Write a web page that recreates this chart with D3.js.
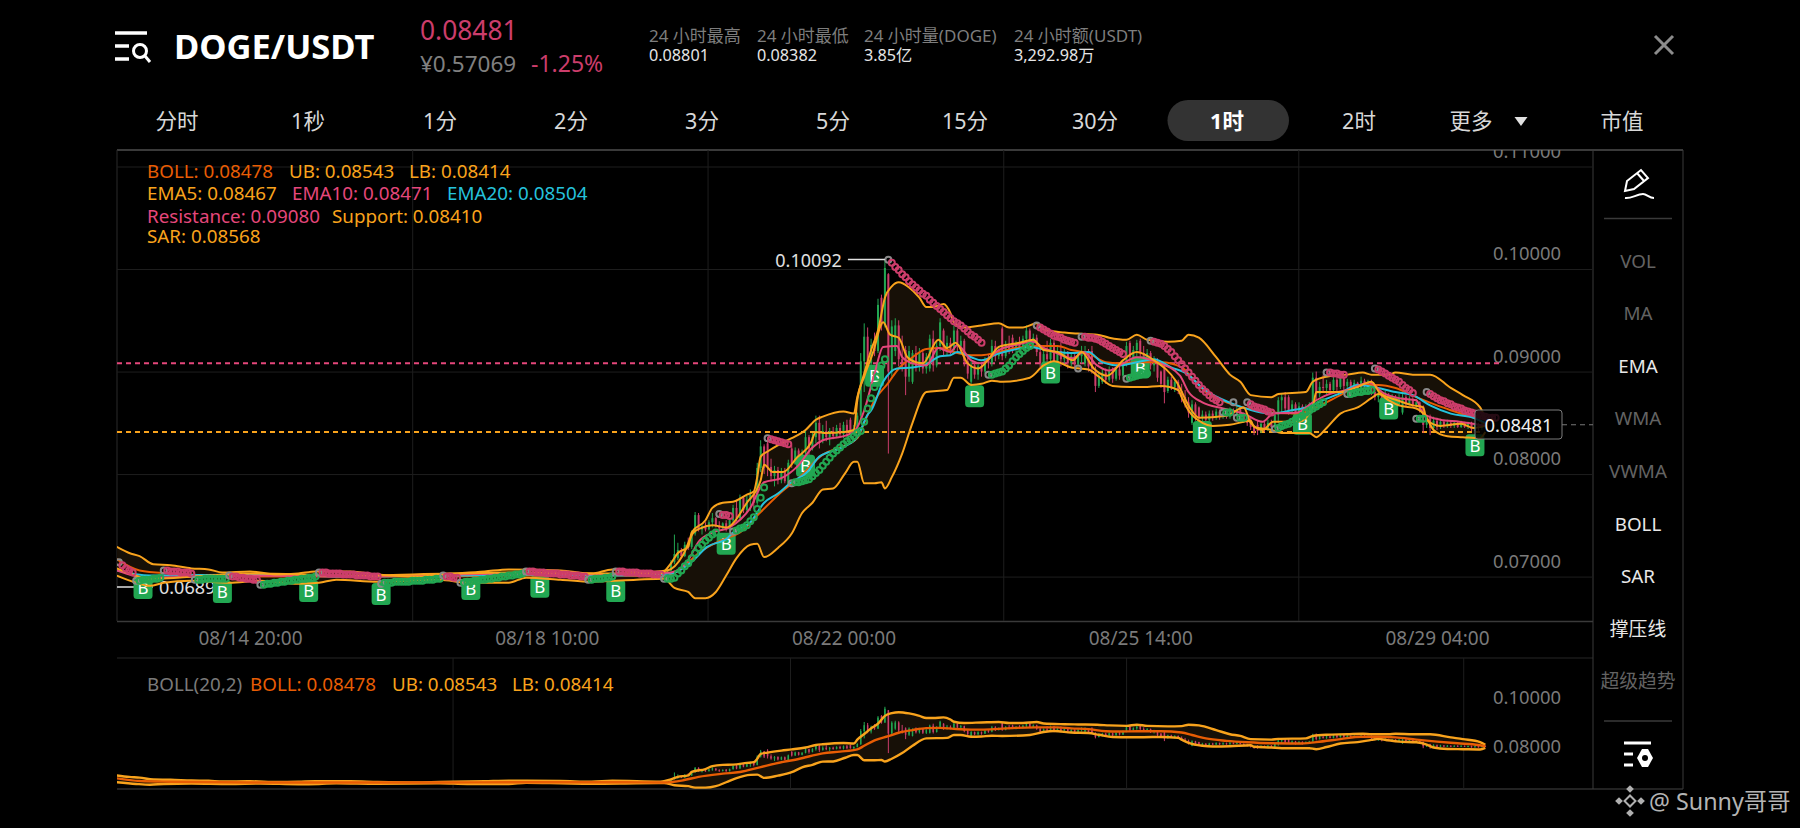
<!DOCTYPE html>
<html>
<head>
<meta charset="utf-8">
<script src="https://cdn.jsdelivr.net/npm/d3@7"></script>
<style>
  html, body { margin: 0; background: #000; overflow: hidden; }
  text { font-family: "Noto Sans", "Noto Sans CJK SC", sans-serif; }
</style>
</head>
<body>
<svg id="chart" width="1800" height="828"></svg>
<script>
// x values are hours counted from 08/14 20:00, y values are prices
var tickHours = [0, 86, 172, 258, 344]
  , tickLabels = ["08/14 20:00", "08/18 10:00", "08/22 00:00", "08/25 14:00", "08/29 04:00"]
  , gridHours = [47, 132.6, 218.3, 303.8]
  , subGridHours = [58.7, 156.5, 253.9, 351.6]
  , priceTicks = [0.11, 0.10, 0.09, 0.08, 0.07]
  , subPriceTicks = [0.10, 0.08]
  , resistance = 0.0908
  , support = 0.0841
  , lastPrice = 0.08481
  , highPoint = [184, 0.10092]
  , lowPoint = 0.06898;

var ub = [[-38.6,.0729],[-35,.0723],[-32,.0720],[-28,.0712],[-23,.0711],[-17,.0708],[-12,.0707],[-8,.0704],[0,.0705],[8,.0702],[14,.0703],[19,.0705],[29,.0705],[37,.0702],[48,.0700],[55,.0702],[68,.0705],[75,.0707],[90,.0706],[99,.0703],[105,.0707],[119,.0703],[122,.0713],[124,.0723],[127,.0729],[128,.0743],[132,.0755],[134,.0767],[137,.0772],[140,.0773],[144,.0780],[146,.0783],[147,.0797],[148,.0817],[150,.0822],[154,.0830],[157,.0835],[161,.0843],[164,.0853],[166,.0856],[172,.0861],[175,.0859],[176,.0875],[178,.0898],[180,.0921],[182,.0940],[184,.0972],[186,.0983],[188,.0987],[191,.0982],[194,.0972],[196,.0963],[198,.0963],[201,.0966],[203,.0957],[204,.0948],[207,.0943],[212,.0945],[217,.0947],[220,.0943],[224,.0943],[228,.0947],[230,.0941],[236,.0938],[240,.0937],[245.5,.0936],[249,.0933],[254,.0931],[257,.0936],[260,.0931],[266,.0929],[270,.0930],[272,.0936],[275,.0933],[280,.0914],[284,.0897],[287,.0890],[290,.0877],[296,.0875],[298,.0878],[306,.0880],[308,.0890],[312,.0895],[318,.0897],[322.5,.0899],[325,.0897],[330,.0897],[332,.0899],[337,.0897],[342,.0897],[348,.0884],[351.5,.0877],[356.5,.0865],[358,.0854]];

var lb = [[-38.6,.0701],[-33,.0694],[-29,.0691],[-25,.0694],[-17,.0696],[-6,.0694],[3,.0696],[14,.0693],[20,.0694],[25,.0697],[37,.0695],[55,.0697],[63,.0694],[75,.0694],[80,.0699],[90,.0697],[99,.0695],[112,.0697],[120,.0698],[123,.0689],[127,.0685],[129,.0679],[132,.0679],[135,.0685],[138,.0701],[141,.0718],[145,.0731],[147,.0732],[149,.0719],[153,.0728],[157,.0742],[160,.0762],[163,.0772],[166,.0785],[169,.0786],[172.5,.0801],[175,.0812],[176,.0812],[178,.0791],[181,.0791],[183,.0792],[184,.0786],[186,.0797],[189,.0820],[192,.0850],[196,.0880],[202,.0882],[204,.0894],[206,.0894],[209,.0887],[212,.0888],[215,.0891],[218,.0890],[226,.0894],[230,.0906],[233,.0910],[238,.0904],[243,.0902],[246,.0895],[250,.0886],[255,.0885],[259,.0885],[264,.0886],[269,.0882],[270,.0875],[272,.0862],[276,.0850],[279,.0847],[284,.0848],[290,.0852],[291,.0846],[296,.0843],[299,.0840],[307,.0840],[309,.0836],[312,.0845],[316,.0859],[321,.0865],[325,.0874],[327,.0878],[330,.0872],[333,.0867],[338,.0864],[341,.0855],[343,.0843],[347,.0837],[351.5,.0836],[356.5,.0835],[358,.0841]];

var boll = [[-38.6,.0717],[-32,.0706],[-23,.0703],[0,.0700],[29,.0700],[55,.0700],[75,.0701],[90,.0701],[107,.0701],[120,.0700],[125.5,.0709],[130,.0723],[137,.0736],[142,.0743],[148,.0763],[154.5,.0784],[159,.0796],[166,.0819],[171,.0826],[176,.0835],[178,.0850],[181,.0872],[185,.0889],[188,.0903],[192,.0914],[196,.0922],[200,.0923],[204,.0919],[209,.0916],[212,.0916],[217,.0919],[222,.0923],[228,.0925],[234,.0925],[238,.0921],[243,.0918],[248,.0909],[252,.0908],[257,.0909],[264,.0909],[270,.0904],[273,.0894],[277,.0880],[283,.0870],[289,.0864],[296,.0860],[304,.0859],[309,.0865],[316,.0877],[322,.0887],[327,.0887],[332,.0884],[338,.0875],[344,.0867],[350,.0860],[356,.0853],[358,.0848]];

var ema20 = [[-38.6,.0706],[-29,.0701],[0,.0702],[29,.0700],[58,.0701],[78,.0702],[107,.0701],[122,.0703],[127.5,.0713],[132.5,.0729],[138.5,.0738],[140,.0743],[145,.0753],[149,.0772],[153,.0781],[156.5,.0791],[161.5,.0802],[165,.0817],[171,.0825],[176,.0836],[179,.0858],[180,.0862],[183.5,.0890],[187.5,.0903],[192,.0904],[196,.0907],[200,.0915],[203,.0916],[205,.0919],[209,.0914],[212,.0911],[216.5,.0917],[221,.0921],[226,.0924],[228,.0923],[234,.0919],[238,.0918],[243,.0919],[247,.0909],[252,.0906],[257,.0909],[262,.0912],[267,.0904],[271.5,.0898],[276,.0884],[281,.0874],[286,.0867],[293,.0860],[296,.0859],[301.5,.0862],[306,.0865],[311,.0872],[316,.0879],[321,.0887],[325.5,.0885],[332,.0880],[337,.0877],[342,.0867],[348,.0859],[354.5,.0855],[358,.0850]];

var ema10 = [[-38.6,.0706],[-30,.0699],[0,.0701],[29,.0700],[58,.0702],[78,.0703],[107,.0702],[122,.0704],[127,.0716],[130,.0734],[134,.0743],[139,.0748],[145,.0767],[149,.0792],[154,.0796],[158.5,.0807],[163,.0826],[166,.0833],[173,.0838],[175.5,.0843],[178,.0862],[181,.0898],[183.5,.0924],[187.5,.0925],[189,.0914],[192,.0908],[196,.0906],[199.5,.0923],[203,.0919],[205,.0926],[209,.0911],[212,.0908],[217,.0921],[222,.0926],[227,.0929],[230,.0923],[233,.0919],[238.5,.0913],[241.5,.0919],[245.5,.0906],[249,.0901],[253,.0908],[257,.0914],[263,.0909],[269.5,.0896],[272,.0880],[276,.0870],[282,.0864],[288,.0859],[293.5,.0851],[296.5,.0859],[303.5,.0860],[308,.0870],[312,.0877],[318,.0882],[324.5,.0889],[328.5,.0879],[333,.0874],[338,.0872],[340,.0859],[345,.0853],[350.5,.0851],[358,.0847]];

var ema5 = [[-38.6,.0708],[-28,.0698],[0,.0703],[29,.0701],[58,.0703],[78,.0704],[107,.0703],[121,.0706],[125.5,.0721],[128.5,.0743],[130.5,.0747],[134,.0750],[138,.0748],[144,.0772],[148,.0794],[149,.0809],[151.5,.0802],[154.5,.0802],[158.5,.0816],[162.5,.0830],[164,.0841],[167,.0840],[172,.0841],[175,.0843],[176,.0872],[178,.0895],[180.5,.0918],[183.5,.0948],[185.5,.0936],[188,.0933],[190.5,.0914],[193,.0909],[195,.0908],[199.5,.0931],[202,.0923],[204.5,.0928],[208,.0908],[211,.0903],[214.5,.0914],[217,.0924],[223,.0928],[227,.0931],[230,.0921],[234,.0919],[238.5,.0911],[241,.0919],[244.5,.0903],[248.5,.0896],[253,.0911],[257,.0919],[262,.0911],[268.5,.0890],[272.5,.0864],[275,.0855],[283,.0857],[288,.0865],[290,.0850],[293.5,.0843],[296.5,.0851],[304,.0851],[308,.0865],[309,.0880],[316,.0880],[321,.0885],[325,.0890],[327.5,.0879],[332.5,.0872],[337,.0867],[340,.0865],[341,.0853],[345,.0847],[351,.0849],[354.5,.0845],[358,.0847]];

// one list per SAR run, values are one hour apart, R above price, G below
var sarStart = [-38,-33,-25,-16,-6,3,20,38,56,61,80,98,106,120,136,140,150,157,185,214,228,240,241,254,261,282,285,286,289,297,312,318,326,338,341]
  , sarSide = "RGRGRGRGRGRGRGRGRGRGRGRGRGGGRGRGRGR".split("");
var sarValues = [
  [.0714,.0711,.0708,.0706,.0704],
  [.0696,.0696,.0697,.0697,.0697,.0698,.0698,.0699],
  [.0706,.0706,.0705,.0705,.0705,.0704,.0704,.0704,.0703],
  [.0697,.0697,.0697,.0698,.0698,.0698,.0698,.0698,.0698,.0698],
  [.0701,.0700,.0700,.0699,.0699,.0698,.0698,.0697,.0697],
  [.0692,.0692,.0693,.0693,.0694,.0694,.0695,.0695,.0696,.0696,.0697,.0697,.0698,.0698,.0699,.0699,.0700],
  [.0704,.0704,.0704,.0703,.0703,.0703,.0703,.0702,.0702,.0702,.0702,.0701,.0701,.0701,.0701,.0700,.0700,.0700],
  [.0693,.0694,.0694,.0694,.0695,.0695,.0695,.0695,.0695,.0696,.0696,.0696,.0696,.0697,.0697,.0697,.0698,.0698],
  [.0701,.0700,.0700,.0699,.0699],
  [.0694,.0694,.0695,.0695,.0696,.0696,.0697,.0697,.0698,.0698,.0699,.0699,.0700,.0700,.0701,.0701,.0702,.0702,.0703],
  [.0705,.0705,.0705,.0704,.0704,.0704,.0703,.0703,.0703,.0703,.0702,.0702,.0702,.0701,.0701,.0701,.0700,.0700],
  [.0697,.0697,.0698,.0698,.0698,.0699,.0699,.0700],
  [.0705,.0705,.0705,.0704,.0704,.0704,.0704,.0703,.0703,.0703,.0703,.0702,.0702,.0702],
  [.0698,.0698,.0698,.0699,.0703,.0706,.0710,.0713,.0718,.0723,.0728,.0731,.0735,.0738,.0741,.0743],
  [.0761,.0760,.0760,.0759],
  [.0744,.0745,.0747,.0748,.0750,.0754,.0758,.0766,.0777,.0787],
  [.0835,.0834,.0833,.0832,.0831,.0830,.0829],
  [.0791,.0792,.0792,.0793,.0794,.0795,.0798,.0801,.0804,.0808,.0812,.0816,.0820,.0823,.0826,.0829,.0832,.0834,.0837,.0840,.0842,.0851,.0864,.0874,.0885,.0895,.0906,.0912],
  [.1009,.1006,.1002,.0999,.0995,.0992,.0988,.0985,.0982,.0979,.0976,.0974,.0970,.0967,.0964,.0961,.0958,.0955,.0952,.0949,.0947,.0945,.0942,.0939,.0936,.0934,.0931,.0928],
  [.0897,.0897,.0898,.0899,.0900,.0903,.0906,.0910,.0914,.0917,.0920,.0923,.0925],
  [.0945,.0943,.0941,.0939,.0937,.0935,.0934,.0933,.0931,.0930,.0929,.0928],
  [.0903],
  [.0934,.0934,.0933,.0933,.0932,.0931,.0929,.0927,.0925,.0923,.0921,.0919,.0917],
  [.0893,.0894,.0895,.0896,.0897,.0898,.0898],
  [.0930,.0929,.0928,.0927,.0925,.0922,.0919,.0915,.0911,.0907,.0903,.0899,.0895,.0891,.0887,.0883,.0880,.0877,.0874,.0872,.0870],
  [.0860,.0860,.0860],
  [.0870],
  [.0855,.0855,.0855],
  [.0870,.0868,.0866,.0865,.0864,.0863,.0861,.0860],
  [.0844,.0845,.0847,.0848,.0849,.0851,.0853,.0855,.0857,.0860,.0862,.0864,.0866,.0868,.0870],
  [.0899,.0899,.0898,.0898,.0897,.0897],
  [.0878,.0878,.0879,.0880,.0880,.0881,.0881,.0882],
  [.0903,.0902,.0900,.0898,.0896,.0894,.0892,.0890,.0887,.0884,.0882,.0879],
  [.0854,.0854,.0854],
  [.0880,.0878,.0876,.0874,.0872,.0871,.0869,.0868,.0866,.0865,.0864,.0862,.0861,.0860,.0859,.0858,.0857,.0856,.0855,.0855,.0855]
];

var badgeHours = [-31,-8,17,38,64,84,106,138,161,181,210,232,258,276,305,330,355]
  , badgePrices = [.0689,.0685,.0686,.0683,.0688,.0690,.0686,.0732,.0808,.0896,.0876,.0899,.0904,.0841,.0849,.0864,.0828];

// hourly candles from hour 120 on: open, high, low, close
var candleStart = 120;
var candles = [
[.0700,.0706,.0699,.0705],[.0705,.0708,.0703,.0706],[.0706,.0716,.0705,.0714],[.0714,.0741,.0712,.0722],[.0718,.0733,.0716,.0726],[.0726,.0728,.0718,.0720],[.0720,.0734,.0719,.0731],[.0731,.0738,.0726,.0729],[.0729,.0745,.0727,.0742],[.0742,.0763,.0740,.0760],
[.0760,.0762,.0744,.0746],[.0746,.0752,.0741,.0749],[.0749,.0753,.0744,.0746],[.0746,.0755,.0745,.0753],[.0753,.0762,.0748,.0757],[.0757,.0758,.0748,.0750],[.0750,.0754,.0744,.0747],[.0747,.0753,.0745,.0752],[.0752,.0755,.0744,.0746],[.0746,.0757,.0745,.0755],
[.0755,.0770,.0752,.0767],[.0767,.0775,.0754,.0757],[.0757,.0780,.0756,.0777],[.0777,.0778,.0762,.0765],[.0765,.0779,.0763,.0775],[.0775,.0785,.0764,.0780],[.0780,.0783,.0766,.0772],[.0772,.0811,.0770,.0806],[.0806,.0833,.0802,.0827],[.0827,.0829,.0800,.0806],
[.0830,.0836,.0798,.0807],[.0807,.0815,.0793,.0798],[.0798,.0808,.0788,.0804],[.0804,.0807,.0790,.0794],[.0794,.0806,.0791,.0803],[.0803,.0806,.0791,.0793],[.0790,.0814,.0788,.0811],[.0825,.0828,.0806,.0810],[.0810,.0826,.0809,.0823],[.0823,.0825,.0810,.0813],
[.0813,.0824,.0811,.0821],[.0821,.0842,.0819,.0836],[.0836,.0838,.0818,.0825],[.0825,.0840,.0823,.0836],[.0836,.0857,.0830,.0850],[.0850,.0857,.0825,.0833],[.0833,.0848,.0830,.0842],[.0842,.0852,.0832,.0836],[.0836,.0845,.0828,.0842],[.0842,.0846,.0834,.0837],
[.0837,.0848,.0835,.0845],[.0845,.0850,.0836,.0839],[.0839,.0851,.0835,.0848],[.0848,.0853,.0836,.0840],[.0853,.0855,.0838,.0840],[.0840,.0848,.0836,.0845],[.0845,.0860,.0843,.0857],[.0857,.0918,.0853,.0910],[.0910,.0947,.0880,.0934],[.0934,.0943,.0901,.0908],
[.0908,.0932,.0900,.0926],[.0926,.0938,.0915,.0920],[.0920,.0971,.0918,.0965],[.0972,.0975,.0940,.0945],[.0945,.1009,.0943,.1001],[.0995,.0996,.0820,.0900],[.0900,.0950,.0895,.0944],[.0920,.0952,.0915,.0945],[.0945,.0950,.0905,.0912],[.0912,.0935,.0900,.0905],
[.0921,.0925,.0877,.0895],[.0895,.0925,.0890,.0920],[.0890,.0921,.0888,.0918],[.0918,.0925,.0900,.0905],[.0905,.0923,.0900,.0918],[.0918,.0922,.0898,.0903],[.0903,.0918,.0898,.0914],[.0903,.0936,.0900,.0932],[.0932,.0940,.0900,.0906],[.0906,.0930,.0904,.0925],
[.0925,.0952,.0920,.0948],[.0940,.0942,.0915,.0920],[.0920,.0935,.0916,.0928],[.0928,.0933,.0917,.0921],[.0921,.0945,.0918,.0940],[.0940,.0942,.0920,.0925],[.0925,.0935,.0918,.0930],[.0930,.0932,.0905,.0910],[.0910,.0915,.0893,.0898],[.0890,.0910,.0886,.0906],
[.0906,.0908,.0893,.0897],[.0897,.0909,.0892,.0905],[.0905,.0908,.0895,.0900],[.0900,.0914,.0898,.0911],[.0911,.0917,.0903,.0908],[.0908,.0931,.0905,.0925],[.0925,.0930,.0910,.0915],[.0915,.0925,.0912,.0922],[.0942,.0944,.0911,.0915],[.0915,.0930,.0913,.0927],
[.0927,.0935,.0917,.0922],[.0933,.0936,.0918,.0923],[.0923,.0930,.0917,.0927],[.0927,.0934,.0920,.0923],[.0923,.0935,.0921,.0932],[.0932,.0945,.0925,.0940],[.0940,.0942,.0922,.0926],[.0926,.0937,.0923,.0933],[.0933,.0936,.0915,.0919],[.0919,.0925,.0904,.0908],
[.0905,.0921,.0903,.0917],[.0917,.0930,.0908,.0912],[.0912,.0932,.0910,.0928],[.0928,.0931,.0905,.0910],[.0910,.0925,.0908,.0920],[.0920,.0929,.0905,.0912],[.0912,.0922,.0908,.0918],[.0918,.0920,.0903,.0908],[.0908,.0918,.0905,.0915],[.0915,.0917,.0902,.0907],
[.0907,.0920,.0904,.0915],[.0915,.0925,.0908,.0920],[.0908,.0925,.0905,.0920],[.0920,.0922,.0900,.0905],[.0920,.0925,.0898,.0903],[.0900,.0905,.0880,.0886],[.0886,.0900,.0884,.0896],[.0890,.0903,.0888,.0899],[.0899,.0903,.0888,.0892],[.0892,.0905,.0890,.0901],
[.0901,.0904,.0889,.0893],[.0893,.0905,.0891,.0902],[.0902,.0906,.0892,.0896],[.0896,.0912,.0894,.0908],[.0908,.0929,.0905,.0925],[.0928,.0930,.0908,.0914],[.0914,.0925,.0912,.0921],[.0921,.0931,.0915,.0928],[.0930,.0932,.0912,.0918],[.0918,.0925,.0908,.0912],
[.0912,.0922,.0908,.0918],[.0918,.0920,.0902,.0906],[.0906,.0915,.0900,.0911],[.0911,.0913,.0890,.0894],[.0900,.0901,.0884,.0888],[.0905,.0908,.0869,.0880],[.0881,.0895,.0879,.0892],[.0892,.0895,.0882,.0885],[.0885,.0893,.0880,.0890],[.0890,.0892,.0878,.0881],
[.0881,.0888,.0870,.0875],[.0875,.0882,.0865,.0870],[.0870,.0875,.0855,.0860],[.0850,.0872,.0848,.0868],[.0868,.0870,.0852,.0857],[.0865,.0866,.0851,.0855],[.0855,.0862,.0850,.0858],[.0858,.0861,.0850,.0853],[.0853,.0862,.0851,.0859],[.0859,.0862,.0852,.0855],
[.0855,.0864,.0853,.0861],[.0861,.0863,.0853,.0856],[.0856,.0864,.0854,.0860],[.0860,.0863,.0854,.0856],[.0856,.0865,.0854,.0862],[.0862,.0864,.0856,.0858],[.0858,.0866,.0856,.0863],[.0863,.0866,.0855,.0857],[.0857,.0860,.0850,.0853],[.0853,.0858,.0847,.0850],
[.0853,.0855,.0843,.0846],[.0846,.0848,.0838,.0841],[.0848,.0852,.0838,.0842],[.0842,.0852,.0840,.0849],[.0849,.0851,.0841,.0844],[.0844,.0853,.0842,.0850],[.0850,.0853,.0843,.0846],[.0846,.0861,.0845,.0858],[.0858,.0875,.0850,.0872],[.0872,.0878,.0860,.0875],
[.0875,.0880,.0860,.0864],[.0875,.0877,.0858,.0862],[.0862,.0872,.0858,.0868],[.0868,.0870,.0855,.0860],[.0860,.0870,.0857,.0866],[.0866,.0868,.0855,.0859],[.0859,.0868,.0857,.0865],[.0865,.0870,.0860,.0868],[.0868,.0899,.0866,.0894],[.0894,.0900,.0872,.0878],
[.0878,.0890,.0875,.0885],[.0885,.0897,.0880,.0884],[.0884,.0892,.0878,.0888],[.0888,.0890,.0880,.0882],[.0882,.0897,.0880,.0892],[.0892,.0896,.0881,.0885],[.0885,.0899,.0883,.0895],[.0895,.0896,.0882,.0886],[.0886,.0893,.0884,.0890],[.0890,.0892,.0883,.0885],
[.0885,.0892,.0883,.0889],[.0889,.0890,.0882,.0884],[.0884,.0895,.0882,.0891],[.0891,.0893,.0884,.0886],[.0886,.0892,.0884,.0890],[.0890,.0892,.0877,.0880],[.0880,.0885,.0872,.0875],[.0875,.0882,.0870,.0878],[.0878,.0880,.0868,.0872],[.0872,.0881,.0870,.0877],
[.0877,.0879,.0868,.0870],[.0870,.0878,.0868,.0875],[.0875,.0877,.0865,.0868],[.0868,.0878,.0866,.0874],[.0860,.0878,.0858,.0875],[.0875,.0877,.0866,.0869],[.0869,.0876,.0867,.0873],[.0873,.0875,.0865,.0867],[.0867,.0873,.0865,.0870],[.0870,.0871,.0860,.0863],
[.0866,.0867,.0840,.0848],[.0848,.0856,.0845,.0852],[.0856,.0858,.0838,.0845],[.0845,.0856,.0842,.0852],[.0852,.0855,.0843,.0846],[.0846,.0854,.0844,.0851],[.0851,.0853,.0845,.0847],[.0847,.0853,.0845,.0850],[.0850,.0852,.0845,.0847],[.0847,.0852,.0845,.0850],
[.0850,.0852,.0845,.0846],[.0846,.0852,.0845,.0850],[.0850,.0851,.0845,.0846],[.0846,.0851,.0844,.0849],[.0849,.0851,.0842,.0844],[.0844,.0850,.0842,.0848],[.0848,.0850,.0842,.0845],[.0845,.0852,.0843,.0849],[.0849,.0851,.0846,.0848]
];

// page texts
var frames = ["分时", "1秒", "1分", "2分", "3分", "5分", "15分", "30分", "1时", "2时", "更多", "市值"]
  , activeFrame = "1时"
  , statNames = ["24 小时最高", "24 小时最低", "24 小时量(DOGE)", "24 小时额(USDT)"]
  , statValues = ["0.08801", "0.08382", "3.85亿", "3,292.98万"]
  , sideNames = ["VOL", "MA", "EMA", "WMA", "VWMA", "BOLL", "SAR", "撑压线", "超级趋势"]
  , sideOn = ["EMA", "BOLL", "SAR", "撑压线"];

var orange = "#f9a31c", bollRed = "#e85d04", pink = "#e5477b", cyan = "#25c2dc"
  , green = "#22a752", red = "#cc3d6b", gridColor = "#1e1e1e", axisColor = "#7a7a7a";

var svg = d3.select("#chart");
svg.append("rect").attr("width", 1800).attr("height", 828).attr("fill", "#000");

var x = d3.scaleLinear().domain([0, 344]).range([250, 1437])
  , y = d3.scaleLinear().domain([0.07, 0.11]).range([576.6, 166.5])
  , ySub = d3.scaleLinear().domain([0.08, 0.10]).range([758, 709]);

var defs = svg.append("defs");
defs.append("clipPath").attr("id", "mainClip").append("rect").attr("x", 117).attr("y", 150).attr("width", 1476).attr("height", 471);
defs.append("clipPath").attr("id", "subClip").append("rect").attr("x", 117).attr("y", 658).attr("width", 1476).attr("height", 131);

function label(text, px, py, size, fill, anchor, weight){
  return svg.append("text").attr("x", px).attr("y", py).attr("font-size", size).attr("fill", fill)
    .attr("text-anchor", anchor || "start").attr("font-weight", weight || 400)
    .attr("dominant-baseline", "central").text(text);
}

function hline(parent, x1, x2, py, color, w, dash){
  return parent.append("line").attr("x1", x1).attr("x2", x2).attr("y1", py).attr("y2", py)
    .attr("stroke", color).attr("stroke-width", w).attr("stroke-dasharray", dash || null);
}

function vline(parent, px, y1, y2, color, w){
  return parent.append("line").attr("x1", px).attr("x2", px).attr("y1", y1).attr("y2", y2)
    .attr("stroke", color).attr("stroke-width", w);
}

function drawHeader(){
  // search menu icon
  var ic = svg.append("g").attr("stroke", "#fff").attr("fill", "none");
  hline(ic, 115, 147, 33, "#fff", 3.5);
  hline(ic, 115, 129, 46, "#fff", 3.5);
  hline(ic, 115, 129, 59, "#fff", 3.5);
  ic.append("circle").attr("cx", 140).attr("cy", 51).attr("r", 6.5).attr("stroke-width", 3);
  ic.append("line").attr("x1", 145).attr("y1", 56).attr("x2", 150).attr("y2", 62).attr("stroke-width", 3);

  label("DOGE/USDT", 174, 45, 34.5, "#fff", "start", 700);
  label("0.08481", 420, 30, 26.4, red);
  label("¥0.57069", 420, 63, 22.5, "#808080");
  label("-1.25%", 531, 63, 23, red);

  var statX = [649, 757, 864, 1014];
  statNames.forEach(function(s, i){
    label(s, statX[i], 35, 17, "#7d7d7d");
    label(statValues[i], statX[i], 55, 16.2, "#e6e6e6");
  });

  svg.append("path").attr("d", "M1655 36L1673 54M1673 36L1655 54").attr("stroke", "#8c8c8c").attr("stroke-width", 3).attr("fill", "none");

  var frameX = [177, 308, 440, 571, 702, 833, 965, 1095, 1227, 1359, 1471, 1622];
  svg.append("rect").attr("x", 1167.5).attr("y", 100).attr("width", 121.5).attr("height", 41).attr("rx", 20.5).attr("fill", "#333");
  frames.forEach(function(f, i){
    label(f, frameX[i], 120, 21.5, f === activeFrame ? "#fff" : "#d8d8d8", "middle", f === activeFrame ? 700 : 400);
  });
  svg.append("path").attr("d", "M1514.5 117L1527.5 117L1521 126Z").attr("fill", "#e0e0e0");
}

function drawFrame(){
  hline(svg, 117, 1683, 150, "#3a3a3a", 2);
  hline(svg, 117, 1593, 621.5, "#3a3a3a", 1.5);
  hline(svg, 117, 1593, 658, "#262626", 1);
  hline(svg, 117, 1683, 789, "#2e2e2e", 1.5);
  vline(svg, 117, 150, 621, "#2a2a2a", 1);
  vline(svg, 1593, 150, 789, "#3a3a3a", 1);
  vline(svg, 1683, 150, 789, "#3a3a3a", 1);

  var yAxis = d3.axisLeft(y).tickValues(priceTicks).tickSize(1476).tickFormat(d3.format(".5f"));
  var gy = svg.append("g").attr("clip-path", "url(#mainClip)").append("g").attr("transform", "translate(1593,0)").call(yAxis);
  gy.select(".domain").remove();
  gy.selectAll("line").attr("stroke", gridColor);
  gy.selectAll("text").attr("x", -32).attr("dy", "0.32em").attr("y", -15).attr("fill", axisColor).attr("font-size", 18.4).attr("font-family", null);

  var gridAxis = d3.axisBottom(x).tickValues(gridHours).tickSize(471).tickFormat("");
  var gg = svg.append("g").attr("transform", "translate(0,150)").call(gridAxis);
  gg.select(".domain").remove();
  gg.selectAll("line").attr("stroke", gridColor);

  var subGrid = d3.axisBottom(x).tickValues(subGridHours).tickSize(131).tickFormat("");
  var gs = svg.append("g").attr("transform", "translate(0,658)").call(subGrid);
  gs.select(".domain").remove();
  gs.selectAll("line").attr("stroke", gridColor);

  var xAxis = d3.axisBottom(x).tickValues(tickHours).tickSize(0).tickFormat(function(d, i){ return tickLabels[i]; });
  var gx = svg.append("g").attr("transform", "translate(0,621)").call(xAxis);
  gx.select(".domain").remove();
  gx.selectAll("text").attr("y", 11).attr("fill", axisColor).attr("font-size", 19).attr("font-family", null);

  var subAxis = d3.axisLeft(ySub).tickValues(subPriceTicks).tickSize(0).tickFormat(d3.format(".5f"));
  var gsy = svg.append("g").attr("transform", "translate(1593,0)").call(subAxis);
  gsy.select(".domain").remove();
  gsy.selectAll("text").attr("x", -32).attr("dy", "0.32em").attr("y", -11).attr("fill", axisColor).attr("font-size", 18.4).attr("font-family", null);
}

function drawCandles(g, yScale, bodyWidth){
  var rows = g.selectAll("g.candle").data(candles).enter().append("g").attr("class", "candle")
    .attr("fill", function(d){ return d[3] >= d[0] ? green : red; })
    .attr("stroke", function(d){ return d[3] >= d[0] ? green : red; });
  rows.append("line")
    .attr("x1", function(d, i){ return x(candleStart + i); })
    .attr("x2", function(d, i){ return x(candleStart + i); })
    .attr("y1", function(d){ return yScale(d[1]); })
    .attr("y2", function(d){ return yScale(d[2]); })
    .attr("stroke-width", 1);
  rows.append("rect").attr("stroke", "none")
    .attr("x", function(d, i){ return x(candleStart + i) - bodyWidth / 2; })
    .attr("width", bodyWidth)
    .attr("y", function(d){ return yScale(Math.max(d[0], d[3])); })
    .attr("height", function(d){ return Math.max(1, Math.abs(yScale(d[0]) - yScale(d[3]))); });
}

function lineOf(yScale){
  return d3.line().x(function(d){ return x(d[0]); }).y(function(d){ return yScale(d[1]); }).curve(d3.curveMonotoneX);
}

function bandFill(g, yScale){
  var outline = ub.concat(lb.slice().reverse());
  g.append("path").attr("d", d3.line().x(function(d){ return x(d[0]); }).y(function(d){ return yScale(d[1]); })(outline) + "Z")
    .attr("fill", "#171007");
}

function strokeLine(g, data, yScale, color, w){
  g.append("path").datum(data).attr("d", lineOf(yScale)).attr("fill", "none").attr("stroke", color)
    .attr("stroke-width", w).attr("stroke-linejoin", "round");
}

function drawMain(){
  var g = svg.append("g").attr("clip-path", "url(#mainClip)");
  bandFill(g, y);
  hline(g, 117, 1500, y(resistance), pink, 2, "5 4");
  hline(g, 117, 1480, y(support), orange, 2, "5 4");
  drawCandles(g, y, 2);

  // low price mark sits under the B badges
  hline(g, 117, 153, y(lowPoint), "#e0e0e0", 1.5);
  g.append("text").attr("x", 159).attr("y", y(lowPoint)).attr("dominant-baseline", "central")
    .attr("font-size", 18).attr("fill", "#e0e0e0").text(lowPoint.toFixed(5));

  var badges = g.selectAll("g.badge").data(badgeHours).enter().append("g").attr("class", "badge")
    .attr("transform", function(d, i){ return "translate(" + x(d) + "," + y(badgePrices[i]) + ")"; });
  badges.append("rect").attr("x", -9.5).attr("y", -11).attr("width", 19).attr("height", 22).attr("rx", 3.5).attr("fill", green);
  badges.append("text").attr("text-anchor", "middle").attr("dominant-baseline", "central")
    .attr("font-size", 17).attr("fill", "#fff").text("B");

  strokeLine(g, boll, y, bollRed, 2);
  strokeLine(g, ema20, y, cyan, 2);
  strokeLine(g, ema10, y, pink, 2);
  strokeLine(g, ema5, y, orange, 2);
  strokeLine(g, ub, y, orange, 2);
  strokeLine(g, lb, y, orange, 2);

  // SAR rings, first dot of every run is grey
  sarValues.forEach(function(run, r){
    g.append("g").selectAll("circle").data(run).enter().append("circle")
      .attr("cx", function(d, i){ return x(sarStart[r] + i); })
      .attr("cy", function(d){ return y(d); })
      .attr("r", 3).attr("fill", "none").attr("stroke-width", 2)
      .attr("stroke", function(d, i){ return i === 0 ? "#8a8a8a" : (sarSide[r] === "R" ? red : green); });
  });

  // highest price mark
  hline(svg, x(highPoint[0]) - 37, x(highPoint[0]), y(highPoint[1]), "#e0e0e0", 1.5);
  label(highPoint[1].toFixed(5), x(highPoint[0]) - 43, y(highPoint[1]), 18, "#e0e0e0", "end");

  // last price
  hline(svg, 1562, 1593, y(lastPrice), "#777", 1, "5 4");
  svg.append("rect").attr("x", 1475).attr("y", 410).attr("width", 87).attr("height", 29).attr("rx", 3)
    .attr("fill", "#000").attr("fill-opacity", 0.82).attr("stroke", "#7c7c7c");
  label(lastPrice.toFixed(5), 1518.5, y(lastPrice), 18.4, "#f0f0f0", "middle");
}

function drawSub(){
  var g = svg.append("g").attr("clip-path", "url(#subClip)");
  bandFill(g, ySub);
  drawCandles(g, ySub, 1.5);
  strokeLine(g, ub, ySub, orange, 2.4);
  strokeLine(g, lb, ySub, orange, 2.4);
  strokeLine(g, boll, ySub, bollRed, 2.4);
}

function drawLegends(){
  var s = 18.8;
  label("BOLL: 0.08478", 147, 171, s, bollRed);
  label("UB: 0.08543", 289, 171, s, orange);
  label("LB: 0.08414", 409, 171, s, orange);
  label("EMA5: 0.08467", 147, 193, s, orange);
  label("EMA10: 0.08471", 292, 193, s, pink);
  label("EMA20: 0.08504", 447, 193, s, cyan);
  label("Resistance: 0.09080", 147, 216, s, pink);
  label("Support: 0.08410", 332, 216, s, orange);
  label("SAR: 0.08568", 147, 236, s, orange);

  label("BOLL(20,2)", 147, 684, s, "#7a7a7a");
  label("BOLL: 0.08478", 250, 684, s, bollRed);
  label("UB: 0.08543", 392, 684, s, orange);
  label("LB: 0.08414", 512, 684, s, orange);
}

function drawSidebar(){
  var cx = 1638;
  // pencil
  svg.append("path").attr("d", "M1625 191L1627 181L1641 170L1648 178L1634 189Z M1637 173L1644 181")
    .attr("fill", "none").attr("stroke", "#fff").attr("stroke-width", 2);
  svg.append("path").attr("d", "M1625 198C1631 199 1637 194 1643 194C1647 194 1649 198 1654 198")
    .attr("fill", "none").attr("stroke", "#fff").attr("stroke-width", 2);
  hline(svg, 1604, 1672, 218.5, "#3a3a3a", 1.5);

  sideNames.forEach(function(n, i){
    label(n, cx, 260.5 + i * 52.6, 18.8, sideOn.indexOf(n) >= 0 ? "#e8e8e8" : "#636363", "middle");
  });

  hline(svg, 1604, 1672, 721, "#3a3a3a", 1.5);
  hline(svg, 1624, 1651, 743, "#fff", 3);
  hline(svg, 1624, 1633, 754, "#fff", 3);
  hline(svg, 1624, 1633, 765, "#fff", 3);
  svg.append("path").attr("d", "M1637 758L1642 749L1648 749L1653 758L1648 767L1642 767Z").attr("fill", "#fff");
  svg.append("circle").attr("cx", 1645).attr("cy", 758).attr("r", 3).attr("fill", "#000");

  // watermark
  var w = svg.append("g").attr("fill", "#b0b0b0");
  [[1630, 789], [1619, 801], [1641, 801], [1630, 813]].forEach(function(p){
    w.append("path").attr("d", d3.symbol().type(d3.symbolSquare).size(30)())
      .attr("transform", "translate(" + p[0] + "," + p[1] + ") rotate(45)");
  });
  w.append("path").attr("d", d3.symbol().type(d3.symbolSquare).size(60)())
    .attr("fill", "#000").attr("stroke", "#b0b0b0").attr("stroke-width", 2)
    .attr("transform", "translate(1630,801) rotate(45)");
  label("@ Sunny哥哥", 1649, 801, 23.3, "#b4b4b4");
}

drawFrame();
drawHeader();
drawMain();
drawSub();
drawLegends();
drawSidebar();
</script>
</body>
</html>
